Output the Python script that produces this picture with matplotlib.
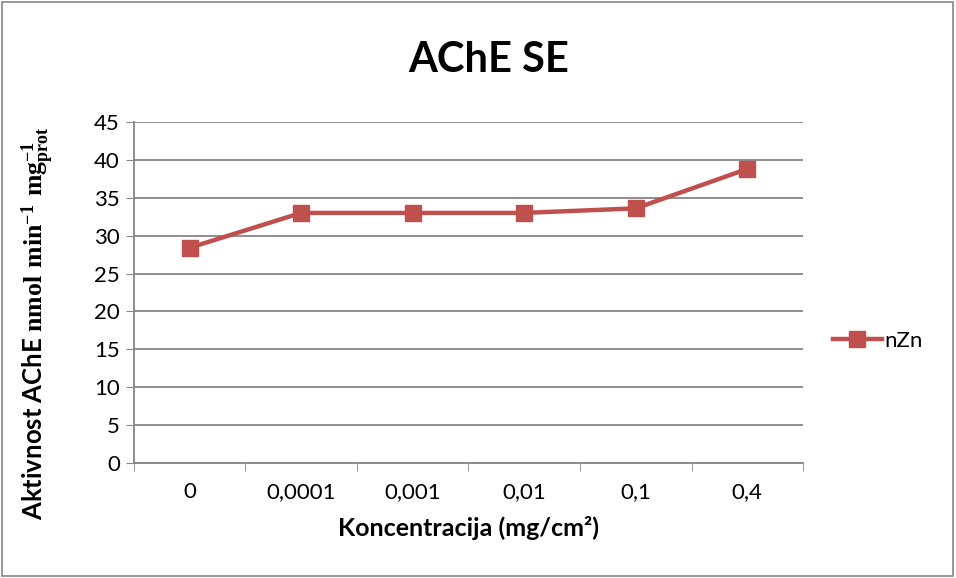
import numpy as np
import matplotlib
matplotlib.use('Agg')
import matplotlib.pyplot as plt
from matplotlib.patches import Rectangle

# data
concentrations = ['0', '0,0001', '0,001', '0,01', '0,1', '0,4']
nzn_values = [28.4, 33.0, 33.0, 33.0, 33.6, 38.8]

plt.rcParams['font.family'] = ['Lato', 'DejaVu Sans']
plt.rcParams['mathtext.fontset'] = 'custom'
plt.rcParams['mathtext.rm'] = 'Liberation Serif'
plt.rcParams['mathtext.bf'] = 'Liberation Serif:bold'

fig = plt.figure(figsize=(9.56, 5.78), dpi=100)
ax = fig.add_axes([0.140, 0.199, 0.700, 0.590])

x = np.arange(len(concentrations))
ax.plot(x, nzn_values, color='#C0504D', linewidth=3.2, marker='s',
        markersize=11.5, label='nZn', zorder=3)

ax.set_xlim(-0.5, len(concentrations) - 0.5)
ax.set_ylim(0, 45)
ax.set_yticks(np.arange(0, 46, 5))
ax.set_xticks(x)
ax.set_xticklabels(concentrations)
ax.set_xticks(np.arange(-0.5, len(concentrations), 1), minor=True)

ax.grid(axis='y', color='#868686', linewidth=1.3)
ax.set_axisbelow(True)
for s in ['top', 'right']:
    ax.spines[s].set_visible(False)
for s in ['left', 'bottom']:
    ax.spines[s].set_color('#868686')
    ax.spines[s].set_linewidth(1.3)

ax.tick_params(axis='y', length=6, color='#868686', labelsize=16, pad=4)
ax.tick_params(axis='x', which='major', length=0, labelsize=16, pad=14)
ax.tick_params(axis='x', which='minor', length=6, color='#868686')

ax.set_title('AChE SE', fontsize=30, fontweight='bold', x=0.53, pad=36)
ax.set_xlabel('Koncentracija (mg/cm²)', fontsize=18, fontweight='bold', labelpad=10)
ax.set_ylabel(r'Aktivnost AChE $\mathbf{nmol\ min^{-1}\ mg_{prot}^{-1}}$',
              fontsize=18.5, fontweight='bold')
ax.yaxis.set_label_coords(-0.117, 0.41)

fig.legend(loc='center left', bbox_to_anchor=(0.862, 0.41), frameon=False,
           fontsize=16, handlelength=2.2, handletextpad=0.1, borderaxespad=0)

# thin grey frame around the chart
fig.patches.append(Rectangle((0.002, 0.003), 0.995, 0.994, transform=fig.transFigure,
                             fill=False, edgecolor='#868686', linewidth=1.2))

fig.savefig('out.png', dpi=100)
